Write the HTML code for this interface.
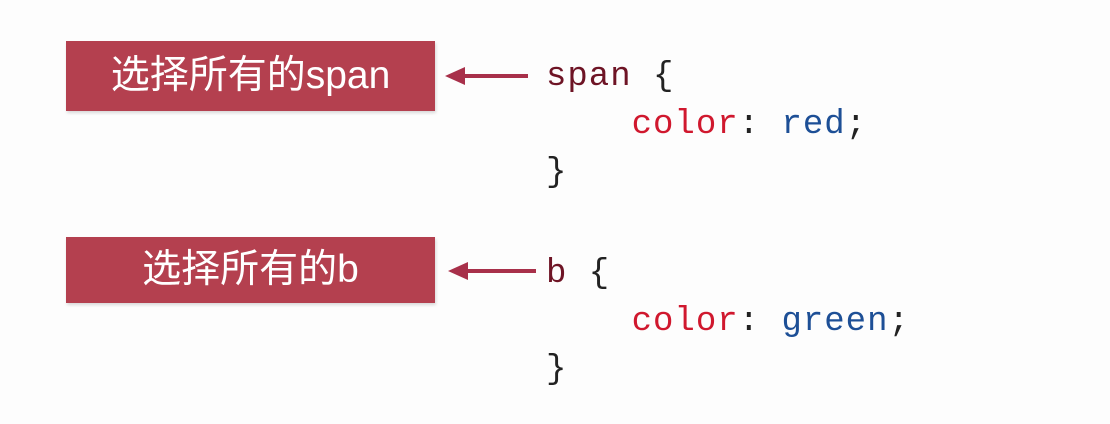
<!DOCTYPE html>
<html><head><meta charset="utf-8"><style>
body{margin:0;width:1110px;height:424px;background:#fdfdfd;position:relative;overflow:hidden}
.box{position:absolute;left:66px;width:369px;background:#b4404f;color:#fff;font-family:"Liberation Sans","Noto Sans CJK SC",sans-serif;font-size:39px;text-align:center;box-shadow:1px 2px 3px rgba(0,0,0,.15)}
.code{position:absolute;font-family:"Liberation Mono",monospace;font-size:34px;line-height:48px;white-space:pre;letter-spacing:1px}
.s{color:#6e1425}.p{color:#d0182e}.v{color:#1d4f96}.k{color:#222}
.arr{position:absolute;height:4px;background:#a8304a}
.head{position:absolute;width:0;height:0;border-top:9px solid transparent;border-bottom:9px solid transparent;border-right:20px solid #a8304a}
</style></head><body>
<div class="box" style="top:41px;height:70px;line-height:70px">选择所有的span</div>
<div class="box" style="top:237px;height:66px;line-height:66px">选择所有的b</div>
<div class="arr" style="left:460px;width:68px;top:74px"></div><div class="head" style="left:445px;top:67px"></div>
<div class="arr" style="left:464px;width:72px;top:269px"></div><div class="head" style="left:448px;top:262px"></div>
<div class="code" style="left:546px;top:53px"><span class="s">span</span><span class="k"> {</span>
<span class="p">    color</span><span class="k">:</span> <span class="v">red</span><span class="k">;</span>
<span class="k">}</span></div>
<div class="code" style="left:546px;top:250px"><span class="s">b</span><span class="k"> {</span>
<span class="p">    color</span><span class="k">:</span> <span class="v">green</span><span class="k">;</span>
<span class="k">}</span></div>
</body></html>
